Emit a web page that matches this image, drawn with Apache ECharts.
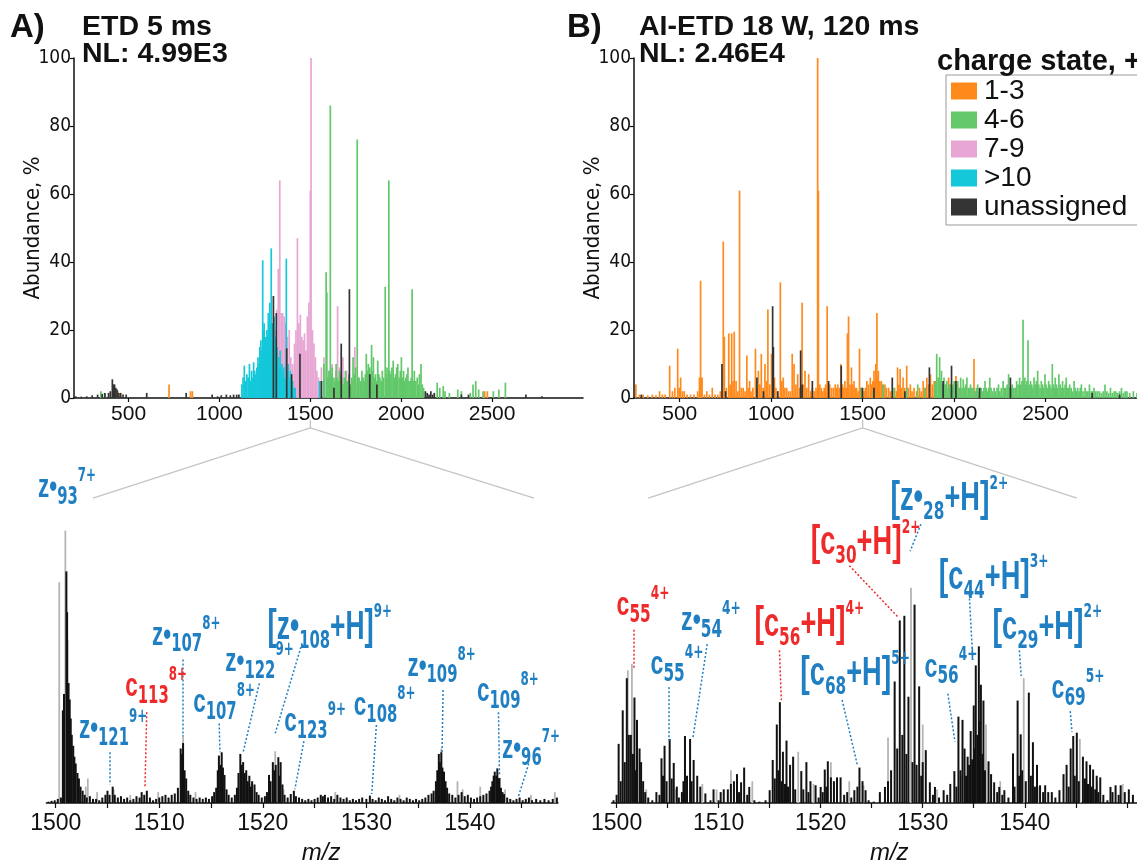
<!DOCTYPE html>
<html><head><meta charset="utf-8">
<script src="https://cdn.jsdelivr.net/npm/echarts@6/dist/echarts.min.js"></script>
<style>html,body{margin:0;padding:0;background:#fff}#c{width:1137px;height:866px}</style>
</head><body><div id="c"></div>
<script>
// ---------------- DATA ----------------
const topTicks = [500, 1000, 1500, 2000, 2500];
const zoomTicks = [1500, 1505, 1510, 1515, 1520, 1525, 1530, 1535, 1540, 1545, 1550];
const zoomLabels = [1500, 1510, 1520, 1530, 1540];
const chargeClasses = ['1-3', '4-6', '7-9', '>10', 'unassigned'];

// Panel A (ETD 5 ms) : [m/z, abundance %]
const A_13 = [[442,2],[723,4],[841,2],[851,2],[2459,2],[2474,2]];
const A_46 = [[348,2],[368,1.5],[1561,5],[1575,10],[1587,37],[1591,31],[1597,6],[1603,8],[1610,86],[1615,7],[1620,9],[1630,6],[1636,5],[1642,10],[1648,6],[1654,5],[1660,8],[1666,7],[1673,6],[1680,4],[1687,6],[1693,8],[1699,5],[1705,5],[1712,7],[1720,4],[1728,6],[1735,12],[1742,7],[1749,9],[1758,76],[1763,6],[1768,6],[1776,5],[1784,8],[1790,6],[1796,5],[1802,7],[1808,13],[1814,8],[1819,10],[1827,9],[1832,7],[1837,15.6],[1842,8],[1847,12],[1853,6],[1859,7],[1865,5],[1871,11],[1877,7],[1883,6],[1890,5],[1896,8],[1903,6],[1912,32.7],[1917,7],[1922,9],[1927,6],[1932,64],[1937,8],[1942,7],[1949,9],[1956,11],[1962,6],[1969,7],[1975,9],[1981,10],[1989,6],[1995,8],[2001,12],[2007,6],[2013,8],[2019,5],[2025,6],[2031,7],[2037,9],[2043,5],[2049,5],[2055,6],[2060,32],[2066,5],[2072,8],[2080,5],[2088,6],[2094,4],[2100,7],[2109,10],[2116,4],[2123,3],[2198,4.5],[2212,3],[2231,3.5],[2241,2],[2265,1.5],[2311,2.5],[2331,2],[2380,1.5],[2395,4],[2410,5],[2426,2.5],[2450,2],[2507,2],[2537,2.5],[2573,4.5]];
const A_79 = [[1305,20],[1315,26],[1324,38],[1332,64],[1340,25],[1348,25],[1356,24],[1364,22],[1374,18],[1384,20],[1393,12],[1403,10],[1413,16],[1421,20],[1429,47],[1437,22],[1445,24.5],[1453,18],[1461,17],[1468,19],[1476,14],[1484,24],[1492,28],[1500,61],[1504,100],[1512,20],[1520,16],[1528,12],[1536,8],[1545,6],[1561,9],[1575,12],[1601,8],[1620,10],[1640,8],[1650,27],[1660,9],[1679,12],[1699,8],[1729,5],[1745,15],[1758,4],[1778,5],[1798,3],[1827,4],[1866,3],[1896,2],[1926,2]];
const A_10 = [[1123,4],[1130,6],[1137,9.5],[1144,5],[1151,7],[1158,6],[1165,10],[1172,5],[1177,8],[1183,6],[1188,10.5],[1194,8],[1200,7],[1206,9],[1212,12],[1217,10],[1222,15],[1228,17],[1233,14],[1238,40.5],[1242,20],[1246,22],[1250,16],[1253,18],[1257,14],[1261,20],[1265,18],[1269,25],[1273,20],[1277,28],[1281,22],[1285,44],[1289,20],[1293,22],[1297,18],[1301,24],[1305,15],[1309,18],[1313,12],[1317,15],[1322,10],[1326,12],[1330,9],[1334,14],[1339,8],[1344,10],[1349,7],[1354,9],[1360,6],[1368,41],[1373,8],[1378,10],[1384,6],[1390,8],[1397,4],[1403,5],[1410,3],[1417,3],[1551,5],[1575,5.5],[1674,2],[1778,3],[1808,5]];
const A_un = [[210,0.5],[240,0.4],[270,0.5],[300,0.8],[330,1],[355,1.2],[370,1.5],[390,1.5],[400,2],[411,5.5],[417,4],[423,4],[430,3],[437,2.5],[447,1.5],[457,1.5],[470,1],[487,1],[600,1.5],[817,1.5],[960,1],[990,0.5],[1010,0.8],[1038,1],[1060,0.8],[1078,1],[1095,1],[1107,1],[1297,30],[1313,25],[1370,14.6],[1397,7],[1443,13],[1561,5],[1630,3],[1670,16],[1715,32],[1827,7],[1866,4],[2133,2],[2143,1.5],[2153,1],[2163,2],[2173,1],[2182,1.5],[2331,1],[2370,1],[2686,1],[2775,0.5]];

// Panel B (AI-ETD 18 W, 120 ms)
const B_13 = [[260,4],[280,1],[300,1],[325,0.8],[350,1],[370,0.8],[390,2],[405,1],[420,1],[445,9.5],[460,2],[473,3],[489,14.5],[497,3],[505,6],[515,2],[525,2],[540,1],[559,1],[578,1],[598,2],[608,6],[614,34.5],[618,6],[622,6],[635,1],[648,2],[663,1],[678,3],[693,1],[708,1],[722,2],[738,46],[744,18],[755,3],[768,19],[776,4],[784,19],[791,5],[798,19.5],[808,5],[818,2],[827,61],[837,3],[847,3],[857,2],[867,12.5],[875,3],[882,5],[890,2],[900,3],[914,14.5],[922,3],[930,8],[938,4],[946,13],[956,3],[966,10],[975,5],[982,26],[992,4],[1002,13],[1010,4],[1018,6],[1026,3],[1035,2],[1050,34],[1058,5],[1066,6],[1075,3],[1085,3],[1095,2],[1105,2],[1115,13],[1125,10],[1135,4],[1145,7],[1155,3],[1169,28],[1177,4],[1185,8],[1195,3],[1205,7],[1215,2],[1225,3],[1235,2],[1245,3],[1254,100],[1258,61],[1266,4],[1274,3],[1282,2],[1290,3],[1298,4],[1306,27],[1313,4],[1320,4],[1330,3],[1340,3],[1350,4],[1357,3],[1364,4],[1372,3],[1381,10],[1390,4],[1396,3],[1403,5],[1410,3],[1417,19],[1423,24],[1431,4],[1439,9],[1446,4],[1453,5],[1460,3],[1467,3],[1475,2],[1483,14.5],[1490,3],[1499,3],[1508,2],[1515,3],[1523,5],[1532,4],[1542,6],[1550,4],[1556,5],[1562,8],[1567,5],[1572,10],[1578,25],[1582,6],[1586,8],[1594,5],[1602,5],[1610,4],[1622,4],[1630,3],[1642,3],[1652,2],[1662,2],[1675,3],[1685,2],[1691,9],[1698,4],[1705,8.5],[1712,3],[1721,6],[1730,3],[1741,9.5],[1750,3],[1761,4],[1770,2],[1781,3],[1795,2],[1811,3],[1821,2],[1831,5],[1841,3],[1851,6],[1861,4],[1871,7],[1881,4],[1891,5],[1950,4],[1970,6],[2010,6.5],[2020,4],[2109,11.5]];
const B_46 = [[1493,3],[1559,2],[1613,4],[1672,3],[1741,3],[1801,4],[1841,3],[1895,4],[1900,5],[1905,13],[1913,6],[1921,12],[1926,5],[1931,8],[1938,4],[1945,6],[1952,4],[1960,5],[1967,3],[1975,4],[1980,4],[1988,3],[1995,4],[2000,5],[2007,3],[2013,4],[2020,5],[2028,3],[2036,6],[2043,3],[2050,5.5],[2057,3],[2063,4],[2070,6],[2078,3],[2085,3],[2090,4],[2098,3],[2105,3],[2115,2],[2122,3],[2129,4],[2137,2],[2143,3],[2149,3],[2157,2],[2163,3],[2169,5],[2176,3],[2182,2],[2189,3],[2195,6],[2202,3],[2210,2],[2219,3],[2227,2],[2235,3],[2243,4],[2250,2],[2258,3],[2268,5],[2275,3],[2283,3],[2290,4],[2298,7],[2305,3],[2312,3],[2318,4],[2326,3],[2334,3],[2342,5],[2350,4],[2358,6],[2365,4],[2371,5],[2377,23],[2382,5],[2387,6],[2393,4],[2398,5],[2404,17],[2410,4],[2418,5],[2425,4],[2431,3],[2437,6],[2444,4],[2450,5],[2457,8],[2463,4],[2470,3],[2477,5],[2484,4],[2490,3],[2497,7],[2503,4],[2510,3],[2517,5],[2524,4],[2530,3],[2537,10],[2543,4],[2548,3],[2553,6],[2560,4],[2566,3],[2573,7],[2580,4],[2587,3],[2593,5],[2600,3],[2607,4],[2613,6],[2620,3],[2626,3],[2632,4],[2640,3],[2648,2],[2656,5],[2663,3],[2670,2],[2676,3],[2684,2],[2690,3],[2696,4],[2705,2],[2716,3],[2725,2],[2732,2],[2740,4],[2750,2],[2758,2],[2765,3],[2775,2],[2785,2],[2795,2],[2805,1.5],[2815,2],[2825,4],[2835,2],[2845,1.5],[2855,3],[2865,1.5],[2875,2],[2885,2],[2895,1.5],[2905,2],[2915,3],[2925,1.5],[2935,2],[2945,2],[2960,1.5],[2980,2],[3000,1.5]];
const B_79 = [];
const B_10 = [];
const B_un = [[290,1],[731,10],[751,2],[922,6],[958,2],[1008,27],[1012,15],[1036,2],[1161,14],[1169,4],[1225,5],[1314,5],[1383,9.5],[1499,3],[1562,3],[1662,6],[1731,2],[1865,9],[1940,5],[1986,9.5],[2010,5],[2139,3],[2308,6],[2755,1.5],[2905,1]];

// Zoomed region 1500-1550, relative intensity
const L_grey = [[1500.34,81],[1500.93,100],[1501.15,60],[1502.9,6],[1503.1,9],[1504.0,4],[1505.6,5],[1507.2,3],[1509.9,4],[1512.3,25],[1513.5,4],[1516.1,12],[1518.9,7],[1521.2,19],[1522.0,5],[1527.0,4],[1533.2,3],[1537.24,20],[1538.8,8],[1539.3,5],[1541.0,6],[1543.4,5],[1545.9,3],[1548.2,4]];
const L_black = [[1499.3,0.5],[1499.6,0.8],[1499.9,1],[1500.2,1.5],[1500.5,2],[1500.69,34],[1500.8,40],[1501.03,85],[1501.1,70],[1501.24,44],[1501.35,38],[1501.45,31],[1501.55,25],[1501.69,21],[1501.8,17],[1501.93,14.5],[1502.1,11],[1502.24,9],[1502.4,6],[1502.6,4.5],[1502.8,3],[1503.0,2],[1503.3,2.5],[1503.6,1.5],[1503.9,1.5],[1504.2,1],[1504.5,2],[1504.8,3],[1505.0,4.5],[1505.2,3],[1505.5,6],[1505.7,3],[1506.0,2],[1506.3,2.5],[1506.6,1.5],[1506.9,2],[1507.2,1],[1507.5,1.5],[1507.8,2.5],[1508.1,2],[1508.3,4],[1508.55,3],[1508.8,4.5],[1509.1,2],[1509.4,1],[1509.7,1.5],[1510.0,2],[1510.3,2.5],[1510.6,3],[1510.9,2],[1511.2,3],[1511.5,3.5],[1511.8,5.6],[1512.07,20],[1512.2,18],[1512.3,22],[1512.45,12],[1512.6,9],[1512.8,4.5],[1513.0,3],[1513.3,2],[1513.6,1.5],[1513.9,2],[1514.2,1.5],[1514.5,2],[1514.8,1.5],[1515.1,2.5],[1515.3,4],[1515.5,5.6],[1515.65,12],[1515.76,17.4],[1515.9,14],[1516.03,18.6],[1516.15,13],[1516.3,10.3],[1516.5,5],[1516.7,3],[1517.0,2],[1517.3,3],[1517.5,5.6],[1517.65,11],[1517.83,18],[1517.95,14],[1518.1,15],[1518.25,11],[1518.4,12],[1518.55,8],[1518.7,10],[1518.85,6],[1518.97,8],[1519.2,6.8],[1519.4,4],[1519.6,3],[1519.9,2],[1520.2,2.5],[1520.4,4],[1520.6,10.3],[1520.75,8],[1520.97,15],[1521.1,12],[1521.25,14],[1521.5,16.8],[1521.6,10],[1521.72,15],[1521.9,6.8],[1522.1,3],[1522.4,2],[1522.7,3.3],[1523.0,4.5],[1523.2,2.5],[1523.5,2],[1523.8,1.5],[1524.1,1],[1524.4,1.5],[1524.7,1],[1525.0,1.5],[1525.3,2],[1525.6,3],[1525.8,2.5],[1526.0,3],[1526.3,2],[1526.6,2.5],[1526.9,1.5],[1527.2,3],[1527.5,2],[1527.8,1.5],[1528.1,2],[1528.4,1],[1528.7,1.5],[1529.0,1],[1529.3,1.5],[1529.6,2],[1530.0,1.5],[1530.34,2.7],[1530.6,1.5],[1530.9,1],[1531.2,2],[1531.5,1.5],[1531.8,1],[1532.1,2.5],[1532.4,1.5],[1532.7,1],[1533.0,2],[1533.3,1.5],[1533.6,1],[1533.9,2],[1534.2,1.5],[1534.5,1],[1534.8,1.5],[1535.1,1],[1535.4,1.5],[1535.7,2],[1536.0,3],[1536.3,3.5],[1536.5,4.5],[1536.72,8],[1536.85,12],[1537.0,18],[1537.1,15],[1537.24,18.6],[1537.35,13],[1537.5,11.5],[1537.65,8],[1537.8,5.6],[1538.0,3.5],[1538.3,3],[1538.6,2],[1538.9,3],[1539.2,4],[1539.5,2.5],[1539.8,3],[1540.1,2],[1540.4,1.5],[1540.7,2],[1541.0,2.5],[1541.3,3],[1541.6,3.5],[1541.9,4.5],[1542.05,6],[1542.17,8],[1542.3,10],[1542.4,11.5],[1542.55,10],[1542.65,12.7],[1542.75,9],[1542.86,9.2],[1543.0,5.6],[1543.15,4],[1543.3,3.3],[1543.6,2],[1543.9,1.5],[1544.2,1],[1544.5,1.5],[1544.8,2],[1545.1,1],[1545.4,1.5],[1545.7,2],[1546.0,1],[1546.4,1.5],[1546.8,1],[1547.2,1.5],[1547.6,1],[1548.0,1.5],[1548.4,2]];
const R_grey = [[1501.1,48.7],[1501.5,51],[1502.9,5],[1505.8,5],[1508.4,7],[1509.8,5],[1511.2,12],[1513.3,8],[1517.8,18.8],[1519.3,7],[1521.0,15],[1522.8,8],[1524.2,6.5],[1526.6,24],[1528.85,79],[1530.0,28.8],[1531.4,5],[1533.8,10],[1536.2,28.8],[1537.6,8],[1539.9,45.8],[1541.3,6],[1545.4,23.5],[1547.1,8],[1549.6,7]];
const R_black = [[1499.7,1],[1500.0,3],[1500.2,21.7],[1500.4,8],[1500.6,34],[1500.8,15],[1501.0,45.8],[1501.2,25],[1501.4,25],[1501.6,18],[1501.75,38.7],[1501.9,12],[1502.0,30.5],[1502.25,20],[1502.4,15],[1502.6,8],[1502.8,4],[1503.1,2],[1503.5,1],[1503.9,4],[1504.2,3],[1504.4,16.4],[1504.55,10],[1504.7,21],[1504.9,8],[1505.2,23.5],[1505.4,9],[1505.6,14.7],[1505.9,6],[1506.1,2],[1506.4,4],[1506.55,8],[1506.7,24.6],[1506.9,10],[1507.2,23.5],[1507.35,8],[1507.55,15.8],[1507.9,10],[1508.2,6],[1508.7,3.5],[1509.2,1],[1509.5,5],[1510.0,1],[1510.2,4],[1510.5,5],[1510.9,5],[1511.2,7],[1511.5,8],[1511.8,10.6],[1512.0,4],[1512.2,7.6],[1512.5,13],[1512.8,3],[1513.0,5.9],[1513.5,1],[1514.0,0.5],[1514.6,1],[1515.0,4.7],[1515.3,15.8],[1515.5,9],[1515.7,28.8],[1515.85,12],[1516.0,37],[1516.15,8],[1516.3,18.8],[1516.5,7],[1516.65,22.9],[1516.8,6],[1517.0,14],[1517.3,17],[1517.5,5],[1518.1,11.7],[1518.3,5],[1518.6,15],[1518.8,4],[1519.0,8],[1519.5,6.5],[1519.8,2],[1520.0,5.9],[1520.2,4],[1520.4,12.3],[1520.55,6],[1520.7,15.3],[1521.0,9.4],[1521.3,8],[1521.6,9.4],[1521.95,9.4],[1522.3,3],[1522.6,4],[1523.0,2],[1523.3,4.7],[1523.6,6],[1523.8,13],[1524.1,8],[1524.4,4.7],[1524.7,1],[1525.2,0.5],[1525.8,4],[1526.3,5.9],[1526.6,8],[1526.9,12],[1527.25,44.6],[1527.5,20],[1527.75,67],[1528.0,25],[1528.2,68.7],[1528.4,18],[1528.6,39],[1529.0,15],[1529.2,72.8],[1529.4,14],[1529.65,42.8],[1529.85,10],[1530.0,15],[1530.3,19.4],[1530.7,7.6],[1531.0,3],[1531.2,5.9],[1531.6,2],[1532.05,4.7],[1532.4,3],[1532.7,7],[1533.1,11.7],[1533.3,6],[1533.5,31.7],[1533.7,12],[1533.9,30.5],[1534.1,20],[1534.25,10],[1534.4,17],[1534.55,14],[1534.7,26.4],[1534.85,16],[1535.0,35.8],[1535.1,20],[1535.2,50.5],[1535.35,25],[1535.5,57.5],[1535.6,30],[1535.7,43.4],[1535.85,18],[1535.95,37.6],[1536.1,12],[1536.45,15.3],[1536.7,10.6],[1537.0,7.6],[1537.3,4],[1537.5,5.9],[1537.8,3],[1538.0,4.7],[1538.4,2],[1538.85,18.2],[1539.0,6],[1539.3,37.6],[1539.45,10],[1539.6,25.2],[1539.75,12],[1540.1,8],[1540.4,40.5],[1540.6,10],[1540.8,22.3],[1541.0,6],[1541.2,14],[1541.5,6.5],[1541.8,4],[1542.0,6.5],[1542.3,4],[1542.65,4],[1543.0,2],[1543.4,4.7],[1543.8,10.6],[1544.1,14],[1544.3,6],[1544.5,20],[1544.75,24.6],[1544.9,10],[1545.1,25.8],[1545.3,8],[1545.7,17],[1545.9,9],[1546.05,15.3],[1546.2,7],[1546.4,14],[1546.55,6],[1546.7,12.3],[1546.9,5],[1547.05,10],[1547.2,4],[1547.4,9.4],[1547.7,3],[1548.1,1],[1548.4,5.9],[1548.6,4],[1548.9,6.5],[1549.2,3],[1549.4,6.5],[1549.8,4],[1550.2,5],[1550.6,3]];

// Fragment annotations: text, colour key, label anchor [m/z, I], leader from -> to
const annLeft = [
  {t:'{m|z•}{s|93}{p|7+}', c:'b', at:[1498.3,115.6]},
  {t:'{m|z•}{s|121}{p|9+}', c:'b', at:[1502.24,27.2], from:[1505.17,18.6], to:[1505.17,6.8]},
  {t:'{m|c}{s|113}{p|8+}', c:'r', at:[1506.72,42.7], from:[1508.79,33.3], to:[1508.62,5.6]},
  {t:'{m|z•}{s|107}{p|8+}', c:'b', at:[1509.31,61.5], from:[1512.31,52.7], to:[1512.31,24.5]},
  {t:'{m|c}{s|107}{p|8+}', c:'b', at:[1513.28,36.8], from:[1515.79,29.2], to:[1515.86,18.6]},
  {t:'{m|z•}{s|122}{p|9+}', c:'b', at:[1516.38,51.7], from:[1519.66,43.9], to:[1518.1,18.6]},
  {t:'{b|[}{M|z•}{s|108}{M|+H}{b|]}{q|9+}', c:'b', at:[1520.45,64.4], from:[1523.79,58.6], to:[1521.2,25.6]},
  {t:'{m|c}{s|123}{p|9+}', c:'b', at:[1522.07,29.7], from:[1523.97,22.7], to:[1523.1,5.1]},
  {t:'{m|c}{s|108}{p|8+}', c:'b', at:[1528.79,35.6], from:[1530.97,28.6], to:[1530.52,3.3]},
  {t:'{m|z•}{s|109}{p|8+}', c:'b', at:[1533.97,50.1], from:[1537.41,41.5], to:[1537.31,18.6]},
  {t:'{m|c}{s|109}{p|8+}', c:'b', at:[1540.69,40.9], from:[1542.76,33.3], to:[1542.86,10.3]},
  {t:'{m|z•}{s|96}{p|7+}', c:'b', at:[1543.1,20], from:[1545.69,14.5], to:[1544.66,2.1]}
];
const annRight = [
  {t:'{m|c}{s|55}{p|4+}', c:'r', at:[1500.0,72.4], from:[1501.68,63.6], to:[1501.68,49.5]},
  {t:'{m|c}{s|55}{p|4+}', c:'b', at:[1503.33,50.7], from:[1505.09,42.5], to:[1505.09,21.9]},
  {t:'{m|z•}{s|54}{p|4+}', c:'b', at:[1506.32,66.9], from:[1508.88,58.3], to:[1507.47,23.7]},
  {t:'{b|[}{M|c}{s|56}{M|+H}{b|]}{q|4+}', c:'r', at:[1513.51,65.4], from:[1515.96,56], to:[1516.14,37.8]},
  {t:'{b|[}{M|c}{s|68}{M|+H}{b|]}{q|5+}', c:'b', at:[1518.0,47.2], from:[1522.1,37.8], to:[1523.61,13.7]},
  {t:'{b|[}{M|c}{s|30}{M|+H}{b|]}{q|2+}', c:'r', at:[1519.02,95.3], from:[1522.81,87.1], to:[1527.61,68.1]},
  {t:'{b|[}{M|z•}{s|28}{M|+H}{b|]}{q|2+}', c:'b', at:[1526.84,111.4], from:[1529.82,102.3], to:[1528.77,92.4]},
  {t:'{b|[}{M|c}{s|44}{M|+H}{b|]}{q|3+}', c:'b', at:[1531.58,82.6], from:[1534.56,76.5], to:[1534.91,52.5]},
  {t:'{m|c}{s|56}{p|4+}', c:'b', at:[1530.18,49.8], from:[1532.46,40.1], to:[1533.16,22.5]},
  {t:'{b|[}{M|c}{s|29}{M|+H}{b|]}{q|2+}', c:'b', at:[1536.84,64.4], from:[1539.47,56], to:[1539.65,46.6]},
  {t:'{m|c}{s|69}{p|5+}', c:'b', at:[1542.63,41.9], from:[1544.46,33.7], to:[1544.63,26.1]}
];

// ---------------- STYLE ----------------
const COL = {'1-3':'#ff8a1c','4-6':'#62c86a','7-9':'#e7a6d3','>10':'#14c8da','unassigned':'#333333'};
const ANN = {b:'#1f7fc2', r:'#ee2a2a'};
const SANS = '"Liberation Sans", Arial, sans-serif';
const NARROW = '"Liberation Sans Narrow", "DejaVu Sans Condensed", "Liberation Sans", sans-serif';
const plain = v => String(v);

const chart = echarts.init(document.getElementById('c'), null, {renderer:'canvas'});

function sticks(name, data, idx, color, w) {
  return {
    type:'custom', name:name, xAxisIndex:idx, yAxisIndex:idx, data:data,
    itemStyle:{color:color}, clip:true, silent:true, animation:false,
    encode:{x:0, y:1},
    renderItem:function(params, api){
      const v = api.value(0), h = api.value(1);
      const b = api.coord([v, 0]), t = api.coord([v, h]);
      return {type:'rect', shape:{x:b[0]-w/2, y:t[1], width:w, height:Math.max(b[1]-t[1], 0.6)}, style:{fill:color}};
    }
  };
}

function topX(idx, min, max) {
  return {gridIndex:idx, type:'value', min:min, max:max,
    axisLine:{show:true, onZero:false, lineStyle:{color:'#111', width:1.5}},
    axisTick:{show:true, customValues:topTicks, length:4, lineStyle:{color:'#111', width:1.2}},
    axisLabel:{customValues:topTicks, formatter:plain, fontSize:21, color:'#111', fontFamily:SANS, margin:6},
    splitLine:{show:false}};
}
function topY(idx) {
  return {gridIndex:idx, type:'value', min:0, max:100, interval:20,
    axisLine:{show:true, lineStyle:{color:'#111', width:1.5}},
    axisTick:{show:true, length:4, lineStyle:{color:'#111', width:1.2}},
    axisLabel:{fontSize:19, color:'#111', fontFamily:NARROW, margin:3},
    splitLine:{show:false},
    name:'Abundance, %', nameLocation:'middle', nameRotate:90, nameGap:30, nameMoveOverlap:false,
    nameTextStyle:{fontSize:22, color:'#111', fontFamily:NARROW}};
}
function zoomX(idx, min, max, shift) {
  return {gridIndex:idx, type:'value', min:min, max:max,
    axisLine:{show:true, onZero:false, lineStyle:{color:'#111', width:1.5}},
    axisTick:{show:true, customValues:zoomTicks, length:5, lineStyle:{color:'#111', width:1.2}},
    axisLabel:{customValues:zoomLabels, formatter:plain, fontSize:23, color:'#111', fontFamily:SANS, margin:9},
    splitLine:{show:false},
    name:'m/z', nameLocation:'middle', nameGap:38, nameMoveOverlap:false,
    nameTextStyle:{fontSize:24, fontStyle:'italic', color:'#111', fontFamily:SANS, padding:[0,0,0,shift]}};
}
function zoomY(idx) {
  return {gridIndex:idx, type:'value', min:0, max:120, show:false, splitLine:{show:false}};
}

function leaders(list, idx) {
  return {type:'lines', coordinateSystem:'cartesian2d', xAxisIndex:idx, yAxisIndex:idx,
    silent:true, animation:false, z:4,
    lineStyle:{type:[2,2], width:1.5, opacity:1},
    data:list.filter(a => a.from).map(a => ({coords:[a.from, a.to], lineStyle:{color:ANN[a.c]}}))};
}

const titleStyle = {fontSize:28.5, fontWeight:'bold', color:'#111', fontFamily:SANS};
const panelStyle = {fontSize:33, fontWeight:'bold', color:'#111', fontFamily:SANS};

const option = {
  animation:false,
  backgroundColor:'#fff',
  title:[
    {text:'A)', left:10, top:11, padding:0, textStyle:panelStyle},
    {text:'ETD 5 ms', left:82, top:13, padding:0, textStyle:titleStyle},
    {text:'NL: 4.99E3', left:82, top:40, padding:0, textStyle:titleStyle},
    {text:'B)', left:567, top:11, padding:0, textStyle:panelStyle},
    {text:'AI-ETD 18 W, 120 ms', left:639, top:13, padding:0, textStyle:titleStyle},
    {text:'NL: 2.46E4', left:639, top:40, padding:0, textStyle:titleStyle},
    {text:'charge state, +', left:937, top:47, padding:0, textStyle:{fontSize:29, fontWeight:'bold', color:'#111', fontFamily:SANS}}
  ],
  legend:{
    data:chargeClasses.map(n => ({name:n, icon:'rect'})),
    orient:'vertical', left:946, top:75, itemWidth:26, itemHeight:17, itemGap:1,
    selectedMode:false, backgroundColor:'#fff', borderColor:'#999', borderWidth:1,
    padding:[2,20,4,5],
    textStyle:{fontSize:28, color:'#111', fontFamily:SANS, padding:[0,0,0,2]}
  },
  grid:[
    {left:74, top:58, width:509, height:340},
    {left:634, top:58, width:511.5, height:340},
    {left:46.4, top:476, width:511.5, height:340.5},
    {left:611.5, top:476, width:540, height:340.5}
  ],
  xAxis:[topX(0, 200, 3000), topX(1, 250, 3000), zoomX(2, 1499.1, 1548.5, 38), zoomX(3, 1499.5, 1551, 30)],
  yAxis:[topY(0), topY(1), zoomY(2), zoomY(3)],
  series:[
    sticks('7-9', A_79, 0, COL['7-9'], 1.7),
    sticks('>10', A_10, 0, COL['>10'], 1.7),
    sticks('4-6', A_46, 0, COL['4-6'], 1.7),
    sticks('1-3', A_13, 0, COL['1-3'], 1.7),
    sticks('unassigned', A_un, 0, COL['unassigned'], 1.7),
    sticks('1-3', B_13, 1, COL['1-3'], 1.7),
    sticks('4-6', B_46, 1, COL['4-6'], 1.7),
    sticks('7-9', B_79, 1, COL['7-9'], 1.7),
    sticks('>10', B_10, 1, COL['>10'], 1.7),
    sticks('unassigned', B_un, 1, COL['unassigned'], 1.7),
    sticks('zoomA-grey', L_grey, 2, '#b5b5b5', 1.8),
    sticks('zoomA', L_black, 2, '#111', 2),
    sticks('zoomB-grey', R_grey, 3, '#b5b5b5', 1.8),
    sticks('zoomB', R_black, 3, '#111', 2),
    leaders(annLeft, 2),
    leaders(annRight, 3)
  ]
};
chart.setOption(option);

// annotations and zoom connectors, positioned through the axes
const rich = {
  m:{fontSize:34, fontWeight:'bold', fontFamily:SANS, lineHeight:44, verticalAlign:'middle'},
  M:{fontSize:40, fontWeight:'bold', fontFamily:SANS, lineHeight:52, verticalAlign:'middle'},
  b:{fontSize:42, fontWeight:'bold', fontFamily:SANS, lineHeight:52, verticalAlign:'middle'},
  s:{fontSize:25, fontWeight:'bold', fontFamily:NARROW, lineHeight:25, verticalAlign:'bottom'},
  p:{fontSize:20, fontWeight:'bold', fontFamily:NARROW, lineHeight:22, verticalAlign:'top'},
  q:{fontSize:20, fontWeight:'bold', fontFamily:NARROW, lineHeight:34, verticalAlign:'top'}
};
const graphics = [];
[[annLeft, 2, 0.66], [annRight, 3, 0.68]].forEach(([list, gi, sx]) => {
  list.forEach(a => {
    const p = chart.convertToPixel({gridIndex:gi}, a.at);
    const r = {};
    Object.keys(rich).forEach(k => { r[k] = Object.assign({fill:ANN[a.c]}, rich[k]); });
    graphics.push({type:'text', x:p[0], y:p[1], scaleX:sx, z:20, silent:true,
      style:{text:a.t, rich:r, fill:ANN[a.c], align:'left', verticalAlign:'middle'}});
  });
});
[[0, 2, 1503.6, 1546.2], [1, 3, 1503.1, 1545.1]].forEach(([ti, bi, lo, hi]) => {
  const apex = chart.convertToPixel({gridIndex:ti}, [1500, 0]);
  const l = chart.convertToPixel({gridIndex:bi}, [lo, 111.9]);
  const rr = chart.convertToPixel({gridIndex:bi}, [hi, 111.9]);
  const top = apex[1] + 22, ap = apex[1] + 30;
  graphics.push({type:'polyline', silent:true, z:1, shape:{points:[[apex[0], top],[apex[0], ap]]}, style:{stroke:'#c4c4c4', lineWidth:1.3}});
  graphics.push({type:'polyline', silent:true, z:1, shape:{points:[[l[0], l[1]],[apex[0], ap],[rr[0], rr[1]]]}, style:{stroke:'#c4c4c4', lineWidth:1.3, fill:null}});
});
chart.setOption({graphic:graphics});
</script>
</body></html>
